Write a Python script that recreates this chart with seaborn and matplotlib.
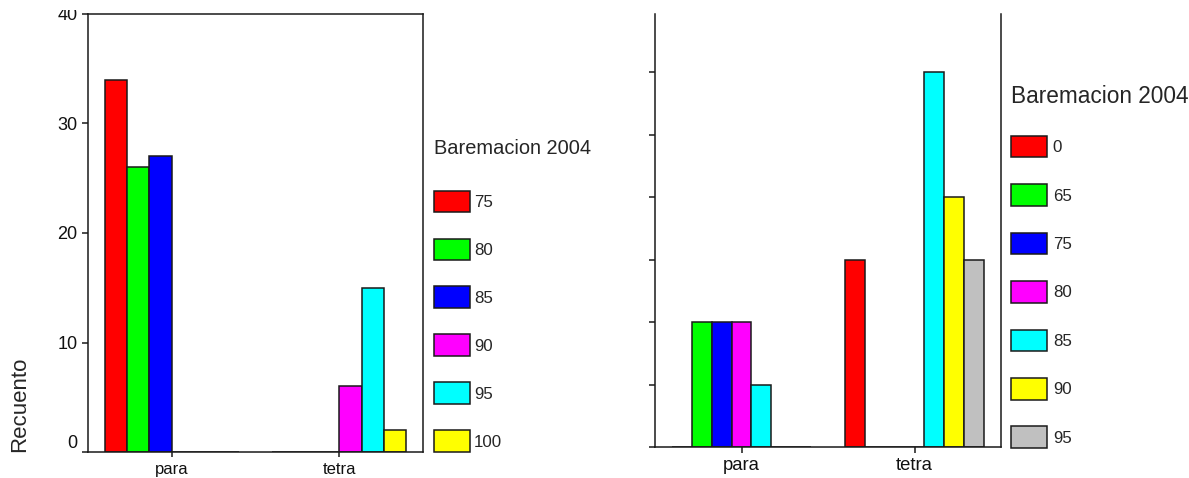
import matplotlib
matplotlib.use("Agg")
import matplotlib.pyplot as plt
from matplotlib.patches import Patch
from matplotlib.transforms import Bbox, IdentityTransform, TransformedBbox
import seaborn as sns
import pandas as pd

# Groups on the x axis
categories = ["para", "tetra"]

# Left panel: counts per group for each "Baremacion 2004" level
left_levels = ["75", "80", "85", "90", "95", "100"]
left_para = [34, 26, 27, 0, 0, 0]
left_tetra = [0, 0, 0, 6, 15, 2]
left_colors = ["#FF0000", "#00FF00", "#0000FF", "#FF00FF", "#00FFFF", "#FFFF00"]
left_yticks = [0, 10, 20, 30, 40]

# Right panel
right_levels = ["0", "65", "75", "80", "85", "90", "95"]
right_para = [0, 2, 2, 2, 1, 0, 0]
right_tetra = [3, 0, 0, 0, 6, 4, 3]
right_colors = ["#FF0000", "#00FF00", "#0000FF", "#FF00FF", "#00FFFF", "#FFFF00", "#C0C0C0"]
right_yticks = [0, 1, 2, 3, 4, 5, 6]

legend_title = "Baremacion 2004"
y_label = "Recuento"

INK = "#1a1a1a"
LW = 1.1


def long_frame(levels, para, tetra):
    rows = []
    for cat, vals in zip(categories, [para, tetra]):
        for lev, v in zip(levels, vals):
            rows.append({"grupo": cat, "baremo": lev, "recuento": v})
    return pd.DataFrame(rows)


sns.set_theme(style="ticks")
plt.rcParams["font.family"] = ["Liberation Sans", "DejaVu Sans"]

fig = plt.figure(figsize=(11.89, 4.78), dpi=100)
W, H = 1189, 478


def add_axes(x0, x1, ytop, ybot):
    return fig.add_axes([x0 / W, (H - ybot) / H, (x1 - x0) / W, (ybot - ytop) / H])


ax1 = add_axes(88, 423, 14, 452)
ax2 = add_axes(655, 1001, 14, 447)


def draw_panel(ax, levels, para, tetra, colors):
    df = long_frame(levels, para, tetra)
    sns.barplot(
        data=df, x="grupo", y="recuento", hue="baremo",
        order=categories, hue_order=levels,
        palette=dict(zip(levels, colors)), saturation=1,
        edgecolor=INK, linewidth=LW, errorbar=None,
        width=0.8, legend=False, ax=ax,
    )
    ax.set_xlim(-0.5, 1.5)
    ax.set_xlabel("")
    ax.set_ylabel("")
    for sp in ax.spines.values():
        sp.set_color(INK)
        sp.set_linewidth(LW)
    ax.tick_params(axis="both", colors=INK, labelcolor="#111111",
                   width=LW, direction="out")
    handles = [Patch(facecolor=c, edgecolor=INK, linewidth=LW) for c in colors]
    return handles


LEGEND_KW = dict(
    loc="upper left", bbox_transform=fig.transFigure, frameon=False,
    fontsize=12.2, handlelength=2.12, handleheight=1.59,
    borderpad=0, borderaxespad=0, alignment="left",
)
TITLE_GAP = 23.5  # points between legend title and first entry

# Left panel
h1 = draw_panel(ax1, left_levels, left_para, left_tetra, left_colors)
ax1.set_ylim(0, 40)
ax1.set_yticks(left_yticks)
ax1.tick_params(axis="y", length=4.5, labelsize=13, pad=3)
ax1.tick_params(axis="x", length=3.5, labelsize=12, pad=4)
ylabels = ax1.get_yticklabels()
ylabels[0].set_verticalalignment("bottom")
# the top tick label is cut by the upper edge of the plotting frame
ylabels[-1].set_clip_on(True)
ylabels[-1].set_clip_box(TransformedBbox(Bbox([[0, 0], [W, H - 10]]), IdentityTransform()))
ax1.set_ylabel(y_label, fontsize=16, loc="bottom")
ax1.yaxis.set_label_coords(-0.173, 0)

leg1 = ax1.legend(
    h1, left_levels, title=legend_title, title_fontsize=14.4,
    bbox_to_anchor=(434 / W, (H - 139) / H), handletextpad=0.25,
    labelspacing=1.55, **LEGEND_KW,
)
leg1._legend_box.sep = TITLE_GAP

# Right panel
h2 = draw_panel(ax2, right_levels, right_para, right_tetra, right_colors)
ax2.set_ylim(0, 6.93)
ax2.set_yticks(right_yticks)
ax2.set_yticklabels([])
ax2.spines["top"].set_visible(False)
ax2.tick_params(axis="y", length=4.5)
ax2.tick_params(axis="x", length=4.5, labelsize=13.3, pad=3)

leg2 = ax2.legend(
    h2, right_levels, title=legend_title, title_fontsize=16.3,
    bbox_to_anchor=(1011 / W, (H - 85) / H), handletextpad=0.35,
    labelspacing=1.58, **LEGEND_KW,
)
leg2._legend_box.sep = TITLE_GAP - 3.5

fig.savefig("out.png", dpi=100, facecolor="white")
